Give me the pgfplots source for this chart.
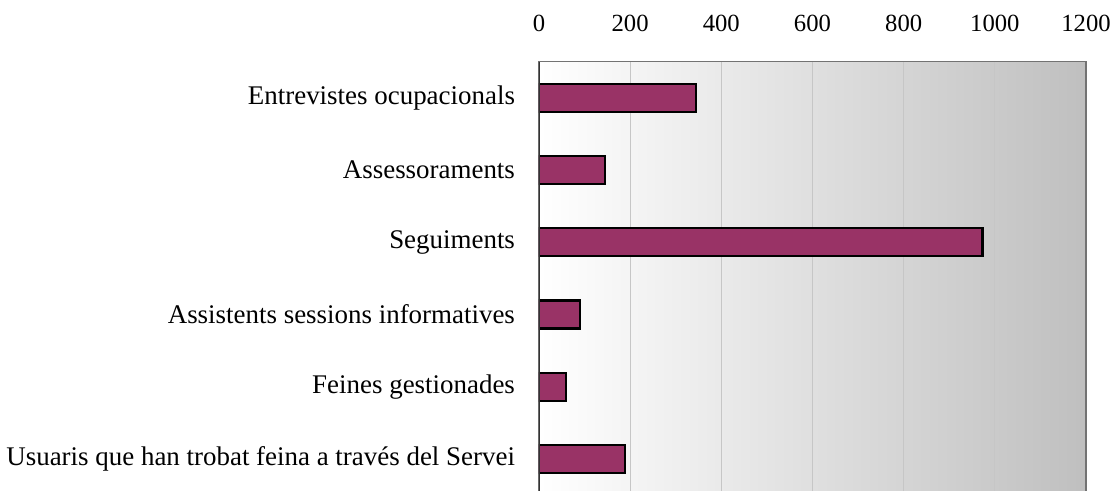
\documentclass[border=0pt]{standalone}
\usepackage{fontspec}
\setmainfont{Liberation Serif}
\usepackage{pgfplots}
\pgfplotsset{compat=1.18}
\definecolor{barc}{HTML}{993366}
\begin{document}
\begin{tikzpicture}
\useasboundingbox (0,0) rectangle (838.5pt,367.5pt);
\begin{axis}[
  at={(404.25pt,321.2pt)}, anchor=north west,
  scale only axis, width=410.25pt, height=325pt,
  xbar, bar width=21pt,
  xmin=0, xmax=1200,
  ymin=-0.5, ymax=5.5, y dir=reverse,
  xtick={0,200,...,1200},
  ytick={0,...,5},
  yticklabels={Entrevistes ocupacionals, Assessoraments, Seguiments, Assistents sessions informatives, Feines gestionades, Usuaris que han trobat feina a través del Servei},
  xticklabel pos=upper,
  major tick length=0pt,
  xmajorgrids, major grid style={color=gray!45, line width=0.75pt},
  axis line style={draw=gray!90!black, line width=1.1pt},
  axis background/.style={shade, left color=white, right color=black!25},
  /pgf/number format/assume math mode=true,
  /pgf/number format/1000 sep={},
  xticklabel style={font=\fontsize{18.5}{20}\selectfont, yshift=19pt},
  yticklabel style={font=\fontsize{20.2}{24}\selectfont, xshift=-14.5pt},
]
\addplot[fill=barc, draw=black, line width=1.6pt] coordinates {(344,0) (144,1) (973,2) (90,3) (59,4) (189,5)};
\draw[line width=1.3pt, black!80] (rel axis cs:0,0) -- (rel axis cs:0,1);
\end{axis}
\end{tikzpicture}
\end{document}
